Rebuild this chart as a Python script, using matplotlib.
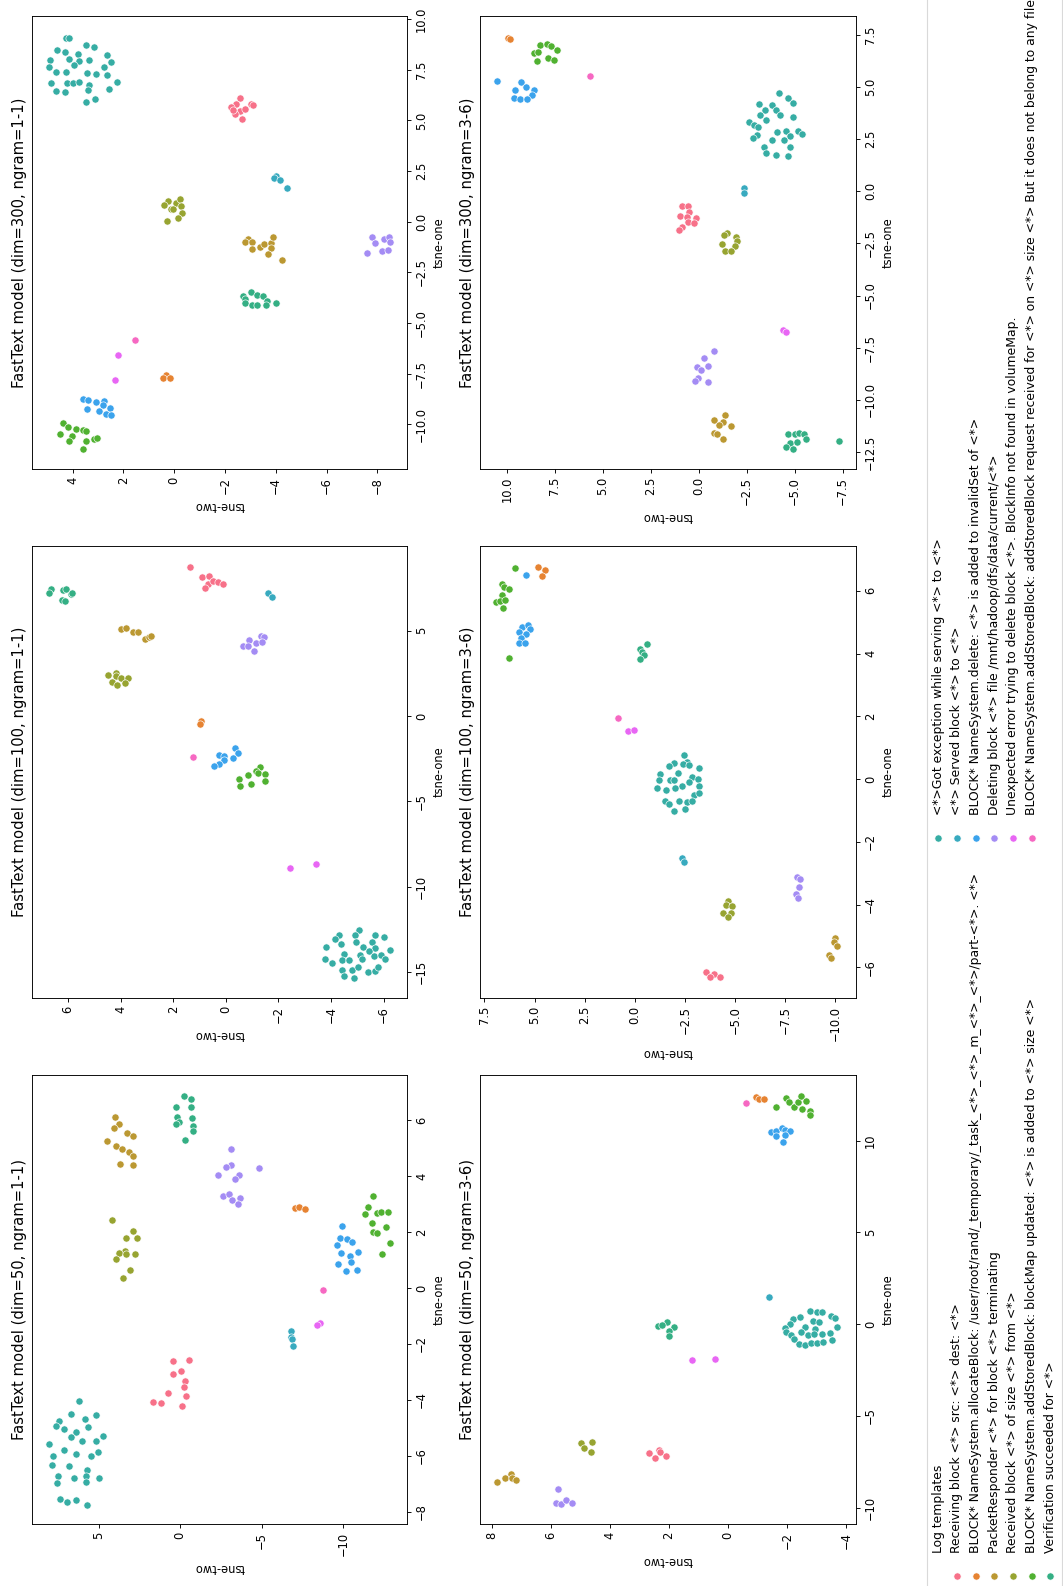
import numpy as np
import matplotlib
matplotlib.use('Agg')
import matplotlib.pyplot as plt
from matplotlib.patches import Rectangle
import seaborn as sns

# log templates (legend order) and their husl colours
TEMPLATES = [
    'Receiving block <*> src: <*> dest: <*>',
    'BLOCK* NameSystem.allocateBlock: /user/root/rand/_temporary/_task_<*>_<*>_m_<*>_<*>/part-<*>. <*>',
    'PacketResponder <*> for block <*> terminating',
    'Received block <*> of size <*> from <*>',
    'BLOCK* NameSystem.addStoredBlock: blockMap updated: <*> is added to <*> size <*>',
    'Verification succeeded for <*>',
    '<*>Got exception while serving <*> to <*>',
    '<*> Served block <*> to <*>',
    'BLOCK* NameSystem.delete: <*> is added to invalidSet of <*>',
    'Deleting block <*> file /mnt/hadoop/dfs/data/current/<*>',
    'Unexpected error trying to delete block <*>. BlockInfo not found in volumeMap.',
    'BLOCK* NameSystem.addStoredBlock: addStoredBlock request received for <*> on <*> size <*> But it does not belong to any file',
]
COLORS = sns.color_palette('husl', len(TEMPLATES))

# points per model: (template, tsne-one, tsne-two)
dim300_ng11 = [
    *[(6, a, b) for a, b in [(9.06, 4.28), (9.09, 4.13), (8.48, 4.63), (8.37, 4.30), (8.75, 3.48), (8.63, 3.16),
                             (8.25, 2.66), (7.91, 2.48), (7.99, 4.88), (8.02, 4.14), (8.29, 3.79), (7.96, 3.75),
                             (7.97, 3.36), (7.73, 3.95), (7.63, 4.93), (7.41, 4.64), (7.41, 4.26), (7.33, 3.45),
                             (7.28, 3.09), (7.64, 2.75), (7.23, 2.66), (6.92, 2.27), (6.84, 4.87), (6.87, 4.22),
                             (6.87, 3.97), (6.89, 3.75), (6.74, 3.34), (6.49, 3.40), (6.46, 4.66), (6.43, 4.31),
                             (6.54, 2.57), (5.90, 3.48), (6.08, 3.12)]],
    *[(0, a, b) for a, b in [(6.13, -2.59), (5.80, -2.42), (5.68, -2.22), (5.47, -2.61), (5.58, -2.80),
                             (5.82, -3.01), (5.75, -3.11), (5.32, -2.39), (5.06, -2.68), (5.52, -2.33)]],
    *[(7, a, b) for a, b in [(2.26, -4.03), (2.14, -3.95), (2.06, -4.16), (1.65, -4.43)]],
    *[(3, a, b) for a, b in [(1.02, 0.23), (0.84, 0.40), (0.63, 0.14), (0.91, -0.09), (1.10, -0.21),
                             (0.77, -0.27), (0.64, 0.04), (0.41, -0.32), (0.18, -0.16), (0.05, 0.30)]],
    *[(2, a, b) for a, b in [(-0.91, -2.85), (-0.87, -2.92), (-1.02, -2.78), (-1.02, -3.07), (-1.33, -3.06),
                             (-1.24, -3.38), (-1.12, -3.55), (-1.07, -3.80), (-0.77, -3.91), (-1.31, -3.81),
                             (-1.60, -3.70), (-1.89, -4.24)]],
    *[(9, a, b) for a, b in [(-0.77, -7.78), (-1.07, -7.92), (-0.84, -8.26), (-0.77, -8.47), (-1.00, -8.52),
                             (-1.52, -7.59), (-1.43, -8.17), (-1.42, -8.43)]],
    *[(5, a, b) for a, b in [(-3.46, -3.01), (-3.67, -2.73), (-3.82, -2.78), (-3.62, -3.28), (-3.67, -3.49),
                             (-3.89, -3.64), (-4.02, -2.78), (-4.10, -3.05), (-4.10, -3.26), (-4.13, -3.60),
                             (-4.00, -4.01)]],
    (11, -5.85, 1.56), (10, -6.59, 2.22), (10, -7.83, 2.35),
    *[(1, a, b) for a, b in [(-7.58, 0.34), (-7.71, 0.46), (-7.71, 0.17)]],
    *[(8, a, b) for a, b in [(-8.76, 3.58), (-8.78, 3.38), (-8.90, 3.09), (-8.86, 2.75), (-9.06, 2.82),
                             (-9.18, 2.54), (-9.27, 3.42), (-9.37, 2.95), (-9.47, 2.69), (-9.56, 2.49)]],
    *[(4, a, b) for a, b in [(-9.92, 4.39), (-10.16, 4.20), (-10.25, 3.88), (-10.30, 3.59), (-10.35, 3.48),
                             (-10.46, 4.50), (-10.58, 4.04), (-10.82, 4.13), (-10.82, 3.49), (-10.74, 3.16),
                             (-10.68, 3.05), (-11.24, 3.61)]],
]

dim100_ng11 = [
    *[(0, a, b) for a, b in [(8.73, 1.35), (8.12, 0.90), (8.20, 0.63), (7.71, 0.69), (7.89, 0.47), (7.87, 0.30),
                             (7.75, 0.11), (7.52, 0.78)]],
    *[(7, a, b) for a, b in [(7.19, -1.62), (6.99, -1.77)]],
    *[(5, a, b) for a, b in [(7.42, 6.63), (7.19, 6.72), (7.38, 6.19), (7.46, 6.06), (7.13, 5.90), (7.19, 5.84),
                             (6.80, 6.22), (6.76, 6.13)]],
    *[(2, a, b) for a, b in [(5.10, 3.97), (5.14, 3.81), (4.90, 3.53), (4.94, 3.35), (4.51, 3.06), (4.61, 2.92),
                             (4.71, 2.85)]],
    *[(9, a, b) for a, b in [(4.71, -1.33), (4.61, -1.45), (4.45, -0.88), (4.30, -1.14), (4.34, -1.36),
                             (4.08, -0.67), (4.12, -0.84), (3.83, -1.08)]],
    *[(3, a, b) for a, b in [(2.39, 4.49), (2.54, 4.16), (2.35, 4.19), (2.25, 3.97), (2.21, 3.71), (1.98, 4.34),
                             (1.80, 4.12), (1.96, 3.85)]],
    *[(1, a, b) for a, b in [(-0.29, 0.94), (-0.46, 0.99)]],
    (11, -2.43, 1.25),
    *[(8, a, b) for a, b in [(-1.89, -0.36), (-2.28, 0.25), (-2.34, 0.08), (-2.18, -0.48), (-2.47, -0.27),
                             (-2.57, 0.08), (-2.82, 0.26), (-2.90, 0.45)]],
    *[(4, a, b) for a, b in [(-2.96, -1.29), (-3.20, -1.16), (-3.45, -0.84), (-3.31, -1.22), (-3.41, -1.49),
                             (-3.78, -1.50), (-3.70, -0.50), (-4.00, -0.96), (-4.09, -0.55)]],
    (10, -8.91, -2.43), (10, -8.66, -3.42),
    *[(6, a, b) for a, b in [(-12.56, -5.06), (-12.85, -4.30), (-13.07, -4.16), (-12.81, -4.93), (-12.83, -5.69),
                             (-12.97, -6.00), (-13.36, -4.37), (-13.24, -4.94), (-13.26, -5.57), (-13.55, -3.82),
                             (-13.54, -5.22), (-13.58, -5.67), (-13.73, -6.26), (-13.93, -4.49), (-14.00, -5.09),
                             (-13.79, -5.44), (-14.08, -5.62), (-14.02, -5.91), (-14.24, -3.78), (-14.49, -4.04),
                             (-14.30, -4.43), (-14.32, -4.68), (-14.26, -5.18), (-14.26, -6.04), (-14.86, -4.42),
                             (-14.86, -4.79), (-14.71, -5.01), (-15.00, -5.39), (-14.96, -5.69), (-14.71, -5.79),
                             (-15.25, -4.49), (-15.35, -4.87)]],
]

dim50_ng11 = [
    *[(5, a, b) for a, b in [(6.86, -0.24), (6.75, -0.69), (6.45, 0.25), (6.46, -0.65), (6.12, 0.19), (5.93, 0.07),
                             (5.86, 0.23), (6.07, -0.73), (5.80, -0.79), (5.62, -0.81), (5.28, -0.28)]],
    *[(2, a, b) for a, b in [(6.10, 4.02), (5.85, 3.75), (5.70, 4.04), (5.55, 3.24), (5.43, 2.89), (5.25, 4.47),
                             (5.07, 3.92), (4.95, 3.57), (4.84, 3.16), (4.72, 2.89), (4.43, 3.71), (4.38, 2.87)]],
    *[(9, a, b) for a, b in [(4.97, -3.14), (4.30, -4.82), (4.41, -3.14), (4.31, -2.84), (4.03, -2.35),
                             (4.02, -3.59), (3.88, -3.35), (3.27, -2.63), (3.34, -2.98), (3.14, -3.21),
                             (3.20, -3.70), (3.00, -3.57)]],
    *[(1, a, b) for a, b in [(2.87, -7.03), (2.89, -7.28), (2.82, -7.65)]],
    *[(4, a, b) for a, b in [(3.27, -11.84), (2.90, -11.51), (2.65, -11.38), (2.69, -12.11), (2.72, -12.31),
                             (2.72, -12.76), (2.33, -11.77), (2.19, -12.66), (1.98, -11.82), (1.97, -12.11),
                             (1.60, -12.90), (1.21, -12.37)]],
    *[(8, a, b) for a, b in [(2.20, -9.94), (1.79, -9.84), (1.74, -10.24), (1.65, -10.57), (1.53, -9.65),
                             (1.23, -9.88), (1.15, -10.45), (1.27, -10.94), (0.85, -9.71), (0.93, -10.47),
                             (0.59, -10.20), (0.65, -10.86)]],
    *[(3, a, b) for a, b in [(2.42, 4.20), (2.03, 2.89), (1.80, 2.67), (1.77, 3.32), (1.33, 3.40), (1.23, 3.75),
                             (1.21, 3.34), (1.21, 2.77), (1.04, 3.92), (0.63, 3.06), (0.37, 3.53)]],
    (11, -0.09, -8.77), (10, -1.25, -8.56), (10, -1.33, -8.42),
    *[(7, a, b) for a, b in [(-1.54, -6.79), (-1.74, -6.79), (-1.84, -6.85), (-2.07, -6.94)]],
    *[(0, a, b) for a, b in [(-2.62, 0.44), (-2.59, -0.55), (-3.08, 0.46), (-2.97, -0.07), (-3.32, -0.30),
                             (-3.56, -0.26), (-3.86, -0.34), (-3.77, 0.76), (-4.08, 1.66), (-4.13, 1.15),
                             (-4.23, -0.10)]],
    *[(6, a, b) for a, b in [(-4.04, 6.21), (-4.52, 6.72), (-4.55, 5.18), (-4.67, 5.84), (-4.76, 7.44),
                             (-4.93, 7.60), (-5.06, 7.15), (-4.97, 5.68), (-5.14, 6.39), (-5.32, 6.72),
                             (-5.29, 4.73), (-5.48, 6.02), (-5.48, 5.14), (-5.57, 8.07), (-5.81, 7.11),
                             (-5.85, 5.04), (-6.00, 7.80), (-5.94, 6.39), (-6.01, 5.45), (-6.32, 7.86),
                             (-6.37, 6.80), (-6.50, 5.74), (-6.71, 7.51), (-6.81, 6.51), (-6.74, 5.76),
                             (-6.81, 4.96), (-6.97, 7.57), (-6.93, 5.78), (-7.56, 7.39), (-7.67, 6.94),
                             (-7.59, 6.39), (-7.77, 5.74)]],
]

dim300_ng36 = [
    *[(1, a, b) for a, b in [(7.32, 9.95), (7.28, 9.86)]],
    *[(4, a, b) for a, b in [(7.02, 8.29), (7.07, 7.91), (6.96, 7.70), (6.75, 7.40), (6.61, 8.60), (6.65, 8.38),
                             (6.24, 8.43), (6.37, 7.85), (6.30, 7.54)]],
    (11, 5.52, 5.69),
    *[(8, a, b) for a, b in [(5.30, 10.52), (5.22, 9.25), (4.83, 9.55), (4.98, 8.99), (4.85, 8.60), (4.62, 8.67),
                             (4.46, 9.62), (4.40, 9.34), (4.42, 8.95)]],
    *[(6, a, b) for a, b in [(4.69, -4.17), (4.46, -4.66), (4.21, -4.92), (4.19, -3.14), (4.11, -3.82),
                             (3.89, -3.46), (3.89, -4.05), (3.65, -4.22), (3.65, -3.18), (3.54, -4.92),
                             (3.41, -3.53), (3.33, -2.64), (3.17, -2.86), (3.09, -3.09), (2.90, -4.57),
                             (2.84, -4.10), (2.90, -5.20), (2.74, -5.36), (2.71, -3.02), (2.66, -4.75),
                             (2.56, -2.81), (2.45, -3.82), (2.45, -4.45), (2.13, -3.42), (2.13, -4.78),
                             (1.83, -3.53), (1.72, -4.05), (1.69, -4.66)]],
    *[(7, a, b) for a, b in [(0.14, -2.34), (-0.07, -2.34)]],
    *[(0, a, b) for a, b in [(-0.69, 0.89), (-0.69, 0.58), (-1.01, 0.52), (-1.19, 0.98), (-1.24, 0.61),
                             (-1.29, 0.14), (-1.46, 0.54), (-1.51, 0.23), (-1.70, 0.87), (-1.88, 1.01)]],
    *[(3, a, b) for a, b in [(-2.02, -1.47), (-2.10, -1.31), (-2.20, -1.94), (-2.37, -1.99), (-2.55, -1.24),
                             (-2.61, -1.87), (-2.87, -1.38), (-2.87, -1.68)]],
    (10, -6.65, -4.40), (10, -6.73, -4.57),
    *[(9, a, b) for a, b in [(-7.64, -0.82), (-7.99, -0.28), (-8.44, 0.09), (-8.38, -0.51), (-8.59, -0.12),
                             (-8.94, 0.05), (-9.10, 0.17), (-9.15, -0.47)]],
    *[(2, a, b) for a, b in [(-10.71, -1.38), (-10.97, -0.82), (-11.05, -1.26), (-11.21, -1.08), (-11.24, -1.69),
                             (-11.57, -0.79), (-11.65, -0.94), (-11.85, -1.26)]],
    *[(5, a, b) for a, b in [(-11.61, -4.66), (-11.61, -5.01), (-11.57, -5.24), (-11.64, -5.48), (-11.89, -5.58),
                             (-12.08, -4.76), (-12.02, -5.15), (-12.24, -4.54), (-12.36, -4.89), (-11.97, -7.33)]],
]

dim100_ng36 = [
    *[(4, a, b) for a, b in [(6.72, 5.95), (6.22, 6.62), (6.12, 6.50), (6.06, 6.27), (5.87, 6.63), (5.63, 6.92),
                             (5.67, 6.72), (5.71, 6.47), (5.44, 6.55), (3.86, 6.29)]],
    *[(8, a, b) for a, b in [(6.51, 5.42), (4.86, 5.64), (4.90, 5.35), (4.79, 5.25), (4.70, 5.77), (4.62, 5.42),
                             (4.49, 5.67), (4.33, 5.77), (4.35, 5.50)]],
    *[(1, a, b) for a, b in [(6.76, 4.84), (6.66, 4.50), (6.48, 4.64)]],
    *[(5, a, b) for a, b in [(4.31, -0.60), (4.14, -0.27), (4.04, -0.35), (3.96, -0.47), (3.82, -0.27)]],
    (11, 1.96, 0.86), (10, 1.54, 0.35), (10, 1.57, 0.03),
    *[(6, a, b) for a, b in [(0.78, -2.47), (0.51, -1.97), (0.54, -2.60), (0.41, -1.68), (0.48, -2.38),
                             (0.46, -2.70), (0.17, -1.27), (0.19, -2.17), (0.34, -3.18), (-0.04, -1.22),
                             (-0.03, -1.75), (-0.03, -1.93), (0.06, -2.83), (-0.01, -3.13), (-0.09, -2.68),
                             (-0.23, -2.35), (-0.27, -1.12), (-0.34, -1.55), (-0.30, -2.02), (-0.21, -3.22),
                             (-0.50, -2.93), (-0.44, -3.18), (-0.71, -1.52), (-0.80, -1.72), (-0.69, -2.20),
                             (-0.72, -2.60), (-0.71, -2.85), (-1.03, -1.97), (-0.97, -2.48)]],
    *[(7, a, b) for a, b in [(-2.51, -2.35), (-2.65, -2.43)]],
    *[(9, a, b) for a, b in [(-3.13, -8.09), (-3.20, -8.22), (-3.44, -8.17), (-3.68, -8.02), (-3.79, -8.14)]],
    *[(3, a, b) for a, b in [(-3.89, -4.63), (-4.02, -4.56), (-4.05, -4.85), (-4.27, -4.40), (-4.27, -4.80),
                             (-4.40, -4.66)]],
    *[(2, a, b) for a, b in [(-5.08, -9.97), (-5.19, -9.92), (-5.33, -10.09), (-5.62, -9.67), (-5.71, -9.79)]],
    *[(0, a, b) for a, b in [(-6.14, -3.55), (-6.21, -3.93), (-6.31, -3.76), (-6.30, -4.26)]],
]

dim50_ng36 = [
    (11, 12.07, -0.60),
    *[(1, a, b) for a, b in [(12.40, -0.96), (12.29, -1.07), (12.29, -1.23)]],
    *[(4, a, b) for a, b in [(11.85, -1.63), (12.33, -1.97), (12.09, -2.06), (11.85, -2.23), (12.11, -2.36),
                             (12.43, -2.49), (12.14, -2.66), (11.74, -2.51), (11.63, -2.79), (11.40, -2.79)]],
    *[(8, a, b) for a, b in [(10.49, -1.46), (10.54, -1.63), (10.67, -1.83), (10.58, -1.95), (10.53, -2.09),
                             (10.25, -1.64), (10.31, -1.92), (9.95, -1.85)]],
    (7, 1.48, -1.38),
    *[(6, a, b) for a, b in [(0.74, -2.77), (0.68, -3.02), (0.65, -3.19), (0.28, -2.20), (0.41, -2.45),
                             (0.19, -2.87), (0.14, -3.07), (0.46, -3.49), (0.32, -3.64), (0.01, -2.11),
                             (-0.23, -1.95), (-0.14, -2.62), (-0.25, -2.96), (-0.17, -3.69), (-0.45, -1.97),
                             (-0.41, -2.49), (-0.59, -2.15), (-0.59, -2.71), (-0.54, -2.90), (-0.55, -3.19),
                             (-0.46, -3.45), (-0.83, -2.23), (-1.08, -2.42), (-1.14, -2.62), (-1.01, -2.82),
                             (-1.04, -3.02), (-0.95, -3.21), (-0.86, -3.53)]],
    *[(5, a, b) for a, b in [(0.14, 2.05), (-0.10, 2.38), (-0.05, 2.24), (-0.14, 1.84), (-0.35, 2.01),
                             (-0.65, 1.98)]],
    (10, -1.95, 1.20), (10, -1.90, 0.44),
    *[(3, a, b) for a, b in [(-6.46, 4.97), (-6.40, 4.60), (-6.77, 4.89), (-6.95, 4.64)]],
    *[(0, a, b) for a, b in [(-7.04, 2.66), (-6.86, 2.35), (-6.98, 2.29), (-7.28, 2.46), (-7.18, 2.10)]],
    *[(2, a, b) for a, b in [(-8.58, 7.81), (-8.40, 7.55), (-8.18, 7.36), (-8.36, 7.30), (-8.49, 7.19)]],
    *[(9, a, b) for a, b in [(-9.00, 5.77), (-9.73, 5.83), (-9.82, 5.66), (-9.58, 5.49), (-9.76, 5.27)]],
]

# The original figure was landscape and then turned a quarter turn, so each
# panel is drawn turned: tsne-one runs upward, tsne-two runs right-to-left.
W, H = 1063, 1586
fig = plt.figure(figsize=(W / 100, H / 100), dpi=100)

FS = 8.3
panels = [
    # (data, title, rect in px (x0, y0, x1, y1), tsne-two range, tsne-one range, ticks two, ticks one)
    (dim300_ng11, 'FastText model (dim=300, ngram=1-1)', (32, 16, 407, 469), (5.60, -9.17), (-12.21, 10.16),
     np.arange(-8, 5, 2), np.arange(-10, 10.1, 2.5)),
    (dim100_ng11, 'FastText model (dim=100, ngram=1-1)', (32, 546, 407, 998), (7.37, -6.89), (-16.52, 9.96),
     np.arange(-6, 7, 2), np.arange(-15, 6, 5)),
    (dim50_ng11, 'FastText model (dim=50, ngram=1-1)', (32, 1075, 407, 1524), (9.09, -13.93), (-8.44, 7.61),
     np.arange(-10, 6, 5), np.arange(-8, 7, 2)),
    (dim300_ng36, 'FastText model (dim=300, ngram=3-6)', (480, 16, 856, 469), (11.40, -8.20), (-13.31, 8.39),
     np.arange(-7.5, 10.1, 2.5), np.arange(-12.5, 7.6, 2.5)),
    (dim100_ng36, 'FastText model (dim=100, ngram=3-6)', (480, 546, 856, 998), (7.72, -11.03), (-6.98, 7.43),
     np.arange(-10, 7.6, 2.5), np.arange(-6, 7, 2)),
    (dim50_ng36, 'FastText model (dim=50, ngram=3-6)', (480, 1075, 856, 1524), (8.40, -4.34), (-10.89, 13.58),
     np.arange(-4, 9, 2), np.arange(-10, 11, 5)),
]

for data, title, (x0, y0, x1, y1), xlim, ylim, xt, yt in panels:
    ax = fig.add_axes([x0 / W, 1 - y1 / H, (x1 - x0) / W, (y1 - y0) / H])
    arr = np.array(data)
    for k in range(len(TEMPLATES)):
        sel = arr[:, 0] == k
        if sel.any():
            ax.scatter(arr[sel, 2], arr[sel, 1], s=27, color=COLORS[k], edgecolor='white', linewidth=0.45)
    ax.set_xlim(*xlim)
    ax.set_ylim(*ylim)
    ax.set_xticks(xt)
    ax.set_yticks(yt)
    ax.yaxis.tick_right()
    ax.yaxis.set_label_position('right')
    ax.tick_params(labelsize=FS, length=2.9, width=0.66, pad=2.9)
    ax.tick_params(axis='x', labelrotation=90)
    ax.tick_params(axis='y', labelrotation=90)
    for lab in ax.get_yticklabels():
        lab.set_verticalalignment('center')
    for s in ax.spines.values():
        s.set_linewidth(0.66)
    ax.set_ylabel('tsne-one', fontsize=FS, labelpad=3.3)
    ax.set_xlabel('tsne-two', fontsize=FS, rotation=180, labelpad=3.3)
    ax.annotate(title, xy=(0, 0.5), xycoords='axes fraction', xytext=(-3.5, 0), textcoords='offset points',
                rotation=90, ha='right', va='center', fontsize=10.6)

# legend, drawn turned as well
lax = fig.add_axes([0, 0, 1, 1], zorder=-1)
lax.set_xlim(0, W)
lax.set_ylim(H, 0)
lax.axis('off')
lax.add_patch(Rectangle((926.7, -10), 134.8, H + 20, facecolor='white', edgecolor='#d9d9d9', linewidth=0.8))

LFS = 8.9
row0, pitch = 938.3, 18.65
lax.text(row0, 1553, 'Log templates', rotation=90, ha='center', va='bottom', fontsize=LFS)
for i in range(6):
    x = row0 + pitch * (i + 1)
    lax.scatter([x], [1576], s=27, color=COLORS[i], edgecolor='white', linewidth=0.45)
    lax.text(x, 1553, TEMPLATES[i], rotation=90, ha='center', va='bottom', fontsize=LFS)
for i in range(6):
    x = row0 + pitch * i
    lax.scatter([x], [838], s=27, color=COLORS[i + 6], edgecolor='white', linewidth=0.45)
    lax.text(x, 815, TEMPLATES[i + 6], rotation=90, ha='center', va='bottom', fontsize=LFS)

plt.savefig('out.png', dpi=100)
plt.close()
